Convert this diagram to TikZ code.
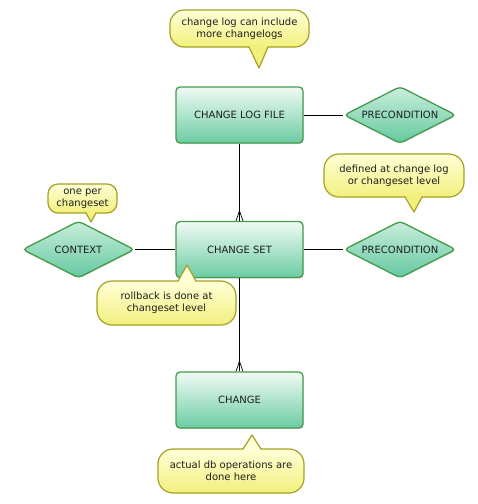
\documentclass[tikz,border=0pt]{standalone}
\usepackage{fontspec}
\setmainfont{DejaVu Sans}
\usetikzlibrary{shapes.geometric,shadows}
\definecolor{boxline}{RGB}{70,155,75}
\definecolor{boxtop}{RGB}{240,250,245}
\definecolor{boxbot}{RGB}{108,204,164}
\definecolor{dmtop}{RGB}{200,238,220}
\definecolor{dmbot}{RGB}{100,200,160}
\definecolor{calline}{RGB}{165,160,35}
\definecolor{caltop}{RGB}{255,255,215}
\definecolor{calbot}{RGB}{242,240,125}
\definecolor{txt}{RGB}{30,30,30}
\tikzset{
  entity/.style={draw=boxline, line width=1.3pt, rounded corners=4pt,
    top color=boxtop, bottom color=boxbot, minimum width=127pt,
    minimum height=56pt, text=txt, font=\fontsize{10}{12}\selectfont,
    drop shadow={shadow xshift=0.6pt, shadow yshift=-1.2pt, opacity=0.25}},
  attr/.style={diamond, aspect=2, draw=boxline, line width=1.3pt,
    rounded corners=4pt, top color=dmtop, bottom color=dmbot,
    minimum width=112pt, minimum height=57pt, inner sep=0pt, text=txt,
    font=\fontsize{10}{12}\selectfont,
    drop shadow={shadow xshift=0.6pt, shadow yshift=-1.2pt, opacity=0.2}},
  conn/.style={draw=black, line width=0.7pt},
  calbody/.style={draw=calline, line width=1.2pt, top color=caltop,
    bottom color=calbot, align=center, inner sep=1pt, text=txt,
    font=\fontsize{10}{12}\selectfont},
  tailline/.style={draw=calline, line width=1.2pt, line join=round},
}
\begin{document}
\begin{tikzpicture}[x=1pt,y=-1pt]
\useasboundingbox[fill=white] (0,0) rectangle (478,504);

% entities
\node[entity] (file) at (239.5,115) {CHANGE LOG FILE};
\node[entity] (cs) at (239.5,249.5) {CHANGE SET};
\node[entity] (ch) at (239.5,400) {CHANGE};

% attributes
\node[attr] (pre1) at (400,115) {PRECONDITION};
\node[attr] (ctx) at (78.5,249.5) {CONTEXT};
\node[attr] (pre2) at (400,249.5) {PRECONDITION};

% connectors
\draw[conn] (file.east) -- (pre1.west);
\draw[conn] (ctx.east) -- (cs.west);
\draw[conn] (cs.east) -- (pre2.west);
\draw[conn] (file.south) -- (cs.north);
\draw[conn] (cs.south) -- (ch.north);
\draw[conn] (cs.north) ++(-3.5,0) -- ++(3.5,-10) -- ++(3.5,10);
\draw[conn] (ch.north) ++(-3.5,0) -- ++(3.5,-10) -- ++(3.5,10);

% callouts
\node[calbody, rounded corners=14pt, minimum width=139pt, minimum height=37pt]
  (c1) at (239.5,28.5) {change log can include\\more changelogs};
\fill[calbot] (249,45.5) -- (259,68) -- (268,45.5) -- cycle;
\draw[tailline] (249,47) -- (259,68) -- (268,47);

\node[calbody, rounded corners=10pt, minimum width=69pt, minimum height=29pt]
  (c2) at (82.5,198.5) {one per\\changeset};
\fill[calbot] (86,211.5) -- (91,222) -- (96,211.5) -- cycle;
\draw[tailline] (86,213) -- (91,222) -- (96,213);

\node[calbody, rounded corners=15pt, minimum width=140pt, minimum height=43pt]
  (c3) at (394,175.5) {defined at change log\\or changeset level};
\fill[calbot] (405,195.5) -- (414,212) -- (422,195.5) -- cycle;
\draw[tailline] (405,197) -- (414,212) -- (422,197);

\node[calbody, rounded corners=15pt, minimum width=139pt, minimum height=44pt]
  (c4) at (166.5,303) {rollback is done at\\changeset level};
\fill[caltop] (178,282.5) -- (187,265) -- (196,282.5) -- cycle;
\draw[tailline] (178,281) -- (187,265) -- (196,281);

\node[calbody, rounded corners=15pt, minimum width=146pt, minimum height=44pt]
  (c5) at (231,471) {actual db operations are\\done here};
\fill[caltop] (243,450.5) -- (252,435) -- (261,450.5) -- cycle;
\draw[tailline] (243,449) -- (252,435) -- (261,449);
\end{tikzpicture}
\end{document}
